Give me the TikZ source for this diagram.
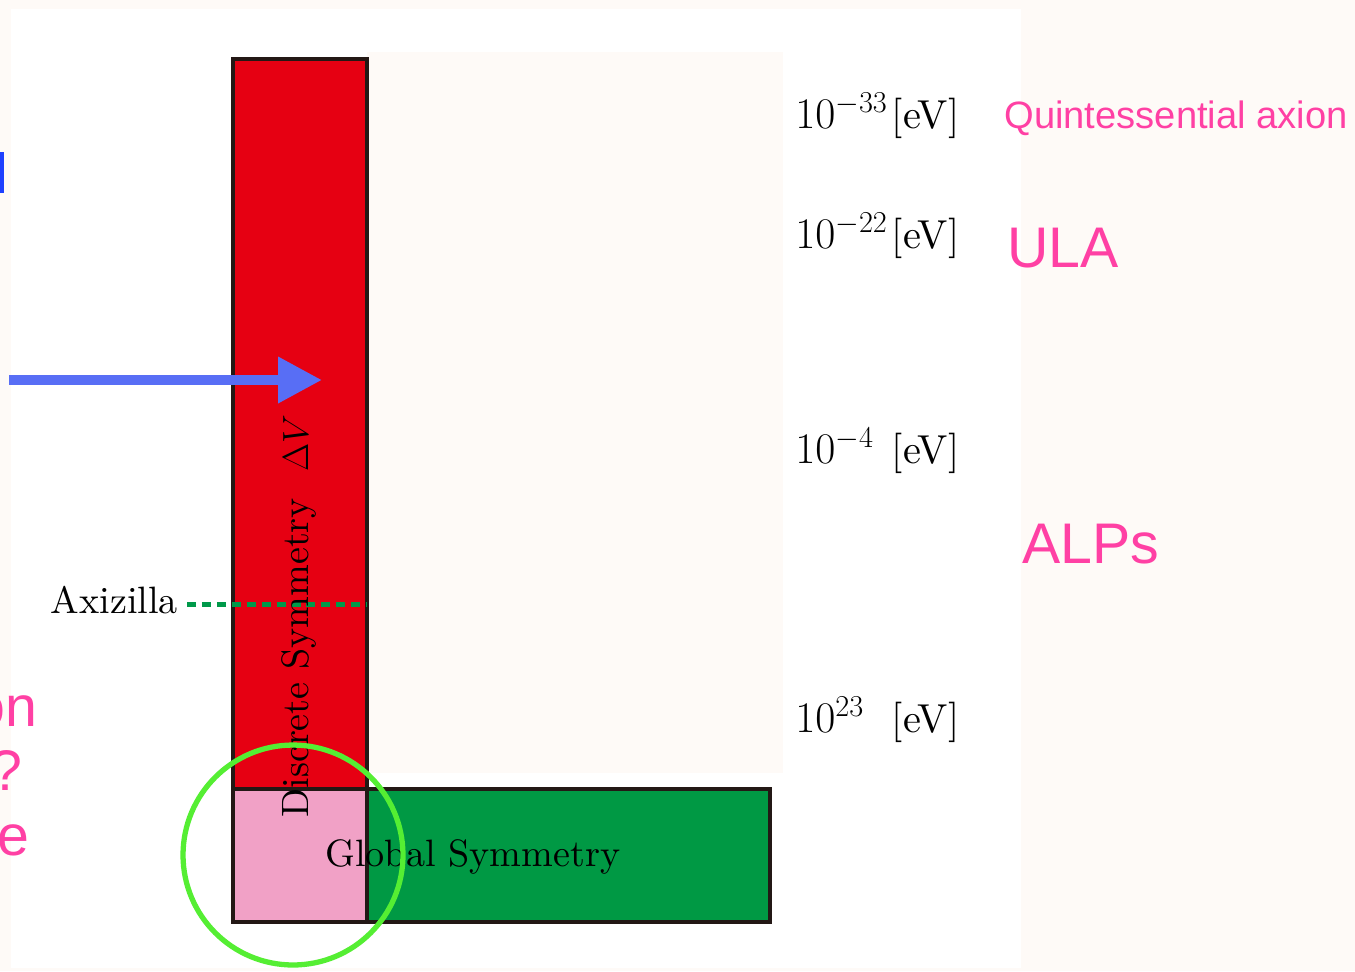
\documentclass[tikz,border=0pt]{standalone}
\usepackage{fontspec}
\setmainfont{lmroman10-regular.otf}[ItalicFont=lmroman10-italic.otf, BoldFont=lmroman10-bold.otf]
\setsansfont{Liberation Sans}
\usetikzlibrary{arrows.meta,positioning}
\definecolor{pagebg}{RGB}{254,250,247}
\definecolor{discred}{HTML}{E60012}
\definecolor{globgreen}{HTML}{009944}
\definecolor{overlap}{HTML}{F1A1C6}
\definecolor{edge}{HTML}{231815}
\definecolor{axgreen}{HTML}{00994A}
\definecolor{ringgreen}{RGB}{85,238,51}
\definecolor{arrowblue}{RGB}{88,110,245}
\definecolor{barblue}{RGB}{30,64,255}
\definecolor{hotpink}{RGB}{255,64,164}

\begin{document}
\begin{tikzpicture}[
  x=0.02cm, y=-0.02cm,
  node distance=0pt,
  region/.style={draw=edge, line width=2.2pt, inner sep=0pt, outer sep=0pt},
  serif/.style={font=\fontsize{21.7}{26}\selectfont, inner sep=0pt},
  ev/.style={font=\fontsize{23}{27}\selectfont, inner sep=0pt, anchor=base west},
  tag/.style={font=\sffamily\fontsize{32.6}{38}\selectfont, text=hotpink, inner sep=0pt},
  pusharrow/.style={draw=arrowblue, line width=5.7pt, -{Triangle[length=25pt, width=25pt]}}]
\useasboundingbox (0,0) rectangle (1355,971);
\fill[pagebg] (0,0) rectangle (1355,971);
\fill[white] (11,9) rectangle (1021,968);
\fill[pagebg] (367,52) rectangle (783,773);
\fill[barblue] (-5,152) rectangle (4,193);
% symmetry regions
\node[region, fill=overlap, minimum width=2.68cm, minimum height=2.66cm] (both) at (300,855.5) {};
\node[region, fill=discred, minimum width=2.68cm, minimum height=14.6cm, above=of both] (discbar) {};
\node[region, fill=globgreen, minimum width=8.06cm, minimum height=2.66cm, right=of both] (globbar) {};
% axizilla line
\node[serif, anchor=base east, inner xsep=5pt] (axizilla) at (187,613) {Axizilla};
\draw[axgreen, line width=3pt, dash pattern=on 5.1pt off 3.4pt] ([yshift=2.8pt]axizilla.mid east) -- ([yshift=2.8pt]axizilla.mid east -| discbar.east);
\node[serif, rotate=90, anchor=base west] (discrete) at (308,818) {Discrete Symmetry\hspace{0.7em}$\Delta V$};
\node[serif, anchor=base west] (global) at (325,866) {Global Symmetry};
% mass scale
\node[ev] (m33) at (795,128) {\makebox[55pt][l]{$10^{-33}$}[eV]};
\node[ev] (m22) at (795,248) {\makebox[55pt][l]{$10^{-22}$}[eV]};
\node[ev] (m4) at (795,463) {\makebox[55pt][l]{$10^{-4}$}[eV]};
\node[ev] (p23) at (795,732) {\makebox[55pt][l]{$10^{23}$}[eV]};
\node[tag, font=\sffamily\fontsize{21.7}{26}\selectfont, anchor=base west] (quint) at (1004,128) {Quintessential axion};
\node[tag, anchor=base west] (ula) at (1007,267) {ULA};
\node[tag, anchor=base west] (alps) at (1022,563) {ALPs};
% cut-off words at the left edge
\node[tag, anchor=base east] (cuton) at (38,726) {on};
\node[tag, anchor=base east] (cutq) at (23,790) {?};
\node[tag, anchor=base east] (cute) at (30,855) {e};
\coordinate (pushtail) at (9,380);
\coordinate (pushtip) at (322,380);
\draw[pusharrow] (pushtail) -- (pushtip);
\node[circle, draw=ringgreen, line width=3pt, minimum size=4.4cm, inner sep=0pt] (ring) at (293,855) {};
\end{tikzpicture}
\end{document}
